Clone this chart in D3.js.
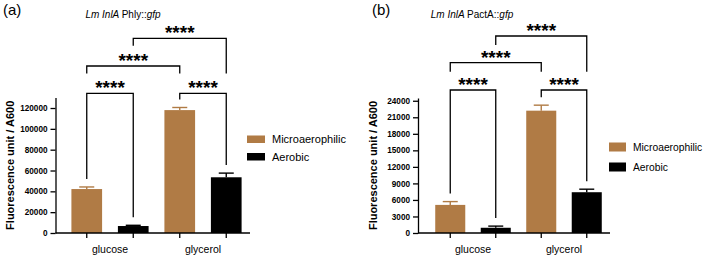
<!DOCTYPE html>
<meta charset="utf-8">
<title>Lm InlA reporter fluorescence</title>
<script src="https://d3js.org/d3.v7.min.js"></script>
<style>
    body { margin: 0; background: #fff; }
    text { font-family: "Liberation Sans", Arial, sans-serif; fill: #000; }
    text.tick { font-size: 8.2px; font-weight: bold; }
    text.ylabel { font-size: 11px; font-weight: bold; text-anchor: middle; }
    text.cat { font-size: 10.5px; text-anchor: middle; }
    text.tag { font-size: 15px; }
    text.title { font-size: 10px; font-style: italic; text-anchor: middle; }
    text.stars { font-size: 19px; font-weight: bold; text-anchor: middle; }
</style>
<div id="chart"></div>
<script>

// data
var groups = ["glucose", "glycerol"];
var series = ["Microaerophilic", "Aerobic"];
var colors = ["#B07B45", "#000000"];

// [group][series] -> mean, error (upper)
var meansA = [[42200, 6700], [118000, 53500]];
var errA   = [[2000, 700],   [2500, 4000]];
var ticksA = [0, 20000, 40000, 60000, 80000, 100000, 120000];

var meansB = [[5100, 950], [22200, 7400]];
var errB   = [[600, 300],  [1000, 550]];
var ticksB = [0, 3000, 6000, 9000, 12000, 15000, 18000, 21000, 24000];

// significance comparisons: [group, series] pairs, bracket tier
var comparisons = [
    {a: [0, 0], b: [0, 1], tier: 0, label: "****"},
    {a: [1, 0], b: [1, 1], tier: 0, label: "****"},
    {a: [0, 0], b: [1, 0], tier: 1, label: "****"},
    {a: [0, 1], b: [1, 1], tier: 2, label: "****"}
];

var svg = d3.select("#chart").append("svg")
    .attr("width", 705)
    .attr("height", 258);

function drawPanel(p) {
    var g = svg.append("g");

    var y = d3.scaleLinear().domain([0, p.yMax]).range([p.y0, p.yTop]);

    var x0 = d3.scaleBand().domain(groups).range(p.xRange).padding(0);
    var x1 = d3.scaleBand().domain(series).range([0, x0.bandwidth()])
        .paddingInner(0.34).paddingOuter(0.17);

    function cx(gi, si) {
        return x0(groups[gi]) + x1(series[si]) + x1.bandwidth() / 2;
    }
    function errTop(gi, si) {
        return y(p.means[gi][si] + p.errs[gi][si]);
    }

    // bars
    var rows = [];
    groups.forEach(function(gr, gi) {
        series.forEach(function(s, si) {
            rows.push({gi: gi, si: si, v: p.means[gi][si], e: p.errs[gi][si]});
        });
    });

    g.selectAll("rect.bar")
        .data(rows)
        .enter()
        .append("rect")
        .attr("class", "bar")
        .attr("x", function(d) { return x0(groups[d.gi]) + x1(series[d.si]); })
        .attr("y", function(d) { return y(d.v); })
        .attr("width", x1.bandwidth())
        .attr("height", function(d) { return y(0) - y(d.v); })
        .attr("fill", function(d) { return colors[d.si]; });

    // error bars (upper only)
    var eb = g.selectAll("g.err")
        .data(rows)
        .enter()
        .append("g")
        .attr("stroke", function(d) { return colors[d.si]; })
        .attr("stroke-width", 1.4);
    eb.append("line")
        .attr("x1", function(d) { return cx(d.gi, d.si); })
        .attr("x2", function(d) { return cx(d.gi, d.si); })
        .attr("y1", function(d) { return y(d.v); })
        .attr("y2", function(d) { return y(d.v + d.e); });
    eb.append("line")
        .attr("x1", function(d) { return cx(d.gi, d.si) - 7.5; })
        .attr("x2", function(d) { return cx(d.gi, d.si) + 7.5; })
        .attr("y1", function(d) { return y(d.v + d.e); })
        .attr("y2", function(d) { return y(d.v + d.e); });

    // y axis
    var ya = g.append("g")
        .attr("transform", "translate(" + p.axisX + ",0)")
        .call(d3.axisLeft(y).tickValues(p.ticks).tickFormat(d3.format("d"))
            .tickSize(5).tickSizeOuter(0).tickPadding(3));
    ya.selectAll("path, line").attr("stroke", "#000").attr("stroke-width", 1.3);
    ya.selectAll("text").attr("class", "tick").attr("font-family", null).attr("font-size", null);

    // x axis
    g.append("line")
        .attr("x1", p.axisX).attr("x2", p.xEnd)
        .attr("y1", y(0)).attr("y2", y(0))
        .attr("stroke", "#000").attr("stroke-width", 1.3);
    g.selectAll("line.xt")
        .data(rows)
        .enter()
        .append("line")
        .attr("x1", function(d) { return cx(d.gi, d.si); })
        .attr("x2", function(d) { return cx(d.gi, d.si); })
        .attr("y1", y(0)).attr("y2", y(0) + 5)
        .attr("stroke", "#000").attr("stroke-width", 1.3);
    g.selectAll("text.cat")
        .data(groups)
        .enter()
        .append("text")
        .attr("class", "cat")
        .attr("x", function(d) { return x0(d) + x0.bandwidth() / 2; })
        .attr("y", y(0) + 20)
        .text(function(d) { return d; });

    g.append("text")
        .attr("class", "ylabel")
        .attr("transform", "translate(" + (p.axisX - 45) + "," + ((p.y0 + p.yTop) / 2) + ") rotate(-90)")
        .attr("dy", "0.35em")
        .text("Fluorescence unit / A600");

    // significance brackets
    comparisons.forEach(function(c) {
        var top = p.tiers[c.tier];
        var xa = cx(c.a[0], c.a[1]), xb = cx(c.b[0], c.b[1]);
        var ya1, yb1;
        if (c.tier === 0) {
            ya1 = errTop(c.a[0], c.a[1]) - 8;
            yb1 = errTop(c.b[0], c.b[1]) - 8;
        } else if (c.tier === 1) {
            ya1 = top + p.leg; yb1 = top + p.leg;
        } else {
            ya1 = top + p.leg; yb1 = p.tiers[1] + p.leg;
        }
        g.append("path")
            .attr("d", "M" + xa + "," + ya1 + "V" + top + "H" + xb + "V" + yb1)
            .attr("fill", "none")
            .attr("stroke", "#000")
            .attr("stroke-width", 1.3);
        g.append("text")
            .attr("class", "stars")
            .attr("x", (xa + xb) / 2)
            .attr("y", top + 1)
            .text(c.label);
    });

    // legend
    var lg = g.selectAll("g.leg")
        .data(series)
        .enter()
        .append("g")
        .attr("transform", function(d, i) { return "translate(" + p.legX + "," + p.legY[i] + ")"; });
    lg.append("rect")
        .attr("width", p.legW).attr("height", p.legH)
        .attr("fill", function(d, i) { return colors[i]; });
    lg.append("text")
        .attr("x", p.legW + 7)
        .attr("y", p.legH / 2)
        .attr("dy", "0.35em")
        .attr("font-size", p.legFont)
        .text(function(d) { return d; });

    // panel tag and title
    g.append("text").attr("class", "tag").attr("x", p.tagX).attr("y", 15).text(p.tag);
    var t = g.append("text").attr("class", "title").attr("x", p.titleX).attr("y", 18);
    t.append("tspan").text("Lm InlA ");
    t.append("tspan").attr("font-style", "normal").text(p.promoter);
    t.append("tspan").text("gfp");
}

drawPanel({
    means: meansA, errs: errA, ticks: ticksA, yMax: 130000,
    axisX: 55.5, xRange: [63.5, 249.5], xEnd: 250, y0: 233, yTop: 97.6,
    tiers: [93.3, 66, 38.3], leg: 7.5,
    legX: 247, legY: [135.5, 153], legW: 18, legH: 7.5, legFont: "11px",
    tag: "(a)", tagX: 3, titleX: 123, promoter: "Phly::"
});

drawPanel({
    means: meansB, errs: errB, ticks: ticksB, yMax: 24500,
    axisX: 418, xRange: [427.5, 609.5], xEnd: 610, y0: 233, yTop: 98,
    tiers: [90, 62.7, 36], leg: 9,
    legX: 609, legY: [142.5, 162.5], legW: 17, legH: 9, legFont: "10.3px",
    tag: "(b)", tagX: 372, titleX: 472, promoter: "PactA::"
});

</script>
